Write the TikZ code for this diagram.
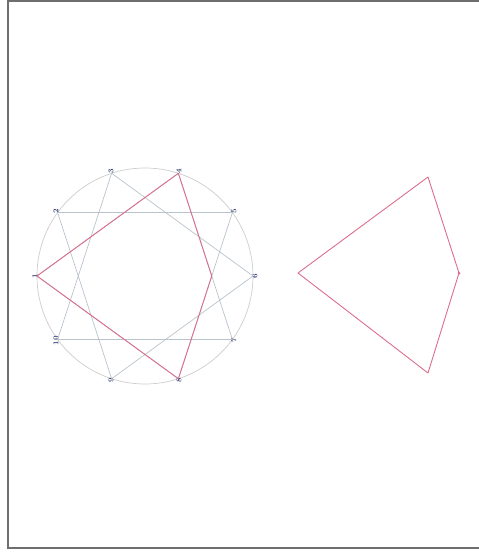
\documentclass[tikz,border=0pt]{standalone}
\usetikzlibrary{calc,intersections}
\definecolor{framegray}{RGB}{110,110,110}
\definecolor{circgray}{RGB}{205,205,205}
\definecolor{stargray}{RGB}{185,195,205}
\definecolor{kitered}{RGB}{220,110,140}
\definecolor{labelblue}{RGB}{60,70,120}
\begin{document}
\begin{tikzpicture}[x=1pt,y=-1pt,
  starline/.style={draw=stargray,line width=0.7pt},
  redline/.style={draw=kitered,line width=0.9pt},
  vlabel/.style={font=\fontsize{7.5}{7.5}\selectfont\bfseries,text=labelblue,rotate=90,inner sep=0pt}]
\useasboundingbox (0,0) rectangle (479,555);
\draw[framegray,line width=1.5pt] (8,0.8) rectangle (490,548);
% left figure
\coordinate (c) at (145,276);
\draw[circgray,line width=0.7pt] (c) circle[radius=108];
\foreach \k in {0,...,9}{
  \coordinate (v\k) at ($(c)+({-36*\k}:108)$);
}
\foreach \k/\lab in {0/6,1/5,2/4,3/3,4/2,5/1,6/10,7/9,8/8,9/7}{
  \node[vlabel] (l\k) at ($(c)+({-36*\k}:110)$) {\lab};
}
\draw[starline] (v0)--(v3) (v1)--(v4) (v2)--(v5) (v3)--(v6) (v4)--(v7)
  (v5)--(v8) (v6)--(v9) (v7)--(v0) (v8)--(v1) (v9)--(v2);
\coordinate (m) at (intersection of v2--v9 and v8--v1);
\draw[redline,line join=round] (v5)--(v2)--(m)--(v8)--cycle;
% right figure
\coordinate (a) at (298,273);
\coordinate (b) at (428,177);
\coordinate (d) at (459,273);
\coordinate (e) at (428,373);
\draw[redline,line join=round] (a)--(b)--(d)--(e)--cycle;
\fill[kitered] (d) circle[radius=1.5];
\end{tikzpicture}
\end{document}
